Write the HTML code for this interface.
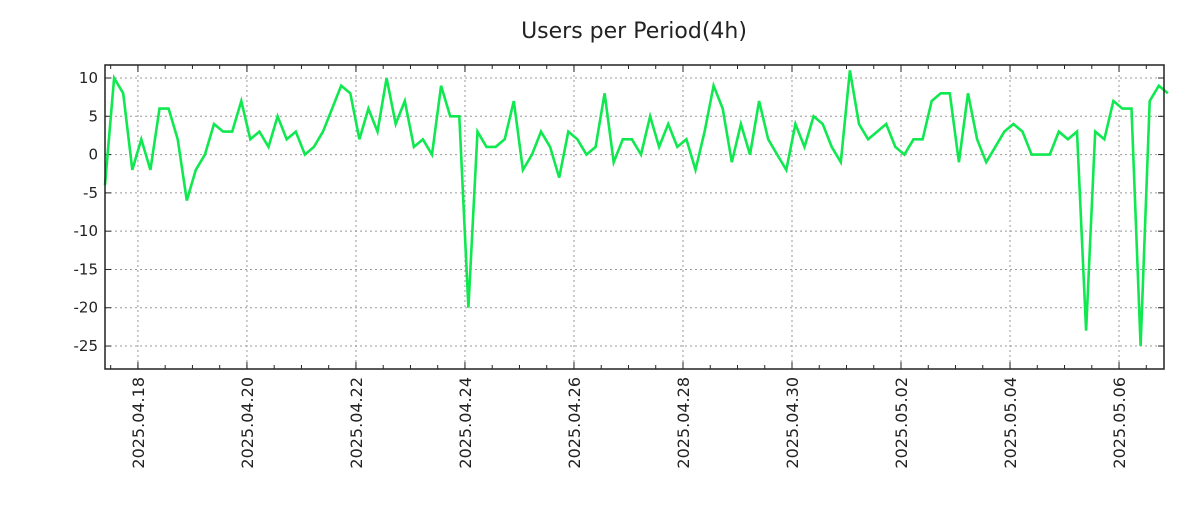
<!DOCTYPE html>
<html><head><meta charset="utf-8"><style>
body{margin:0;background:#fff}
svg text{font-family:"DejaVu Sans","Liberation Sans",sans-serif;fill:#222}
</style></head><body>
<svg id="chart" width="1200" height="500" xmlns="http://www.w3.org/2000/svg">
<rect width="1200" height="500" fill="#fff"/>
<text x="634" y="38" font-size="22" text-anchor="middle">Users per Period(4h)</text>
<g id="grid"></g><g id="axes"></g><g id="series"></g>
<rect x="105" y="65" width="1059" height="304" fill="none" stroke="#222" stroke-width="1.5"/>
</svg>
<script>
const values = [-4,10,8,-2,2,-2,6,6,2,-6,-2,0,4,3,3,7,2,3,1,5,2,3,0,
1,3,6,9,8,2,6,3,10,4,7,1,2,0,9,5,5,-20,
3,1,1,2,7,-2,0,3,1,-3,3,2,0,1,8,-1,2,2,0,5,1,4,1,2,-2,3,9,6,-1,4,0,7,2,0,-2,
4,1,5,4,1,-1,11,4,2,3,4,1,0,2,2,7,8,8,-1,8,2,-1,1,3,4,3,0,0,0,3,2,3,-23,
3,2,7,6,6,-25,7,9,8];
const yTicks = [10,5,0,-5,-10,-15,-20,-25];
const xTickLabels = ["2025.04.18","2025.04.20","2025.04.22","2025.04.24","2025.04.26","2025.04.28","2025.04.30","2025.05.02","2025.05.04","2025.05.06"];
const startHour = -14.5; // hours relative to 2025.04.18 00:00
const stepHours = 4;
const NS="http://www.w3.org/2000/svg";
const L=105,R=1164,T=65,B=369;
const yMin=-28,yMax=11.7;
const xMin=startHour, xMax=startHour+466.3;
const xs=h=>L+(h-xMin)/(xMax-xMin)*(R-L);
const ys=v=>B-(v-yMin)/(yMax-yMin)*(B-T);
function mk(tag,attrs,parent){const e=document.createElementNS(NS,tag);for(const k in attrs)e.setAttribute(k,attrs[k]);parent.appendChild(e);return e;}
const grid=document.getElementById('grid'),axes=document.getElementById('axes'),series=document.getElementById('series');
yTicks.forEach(v=>{
  const y=ys(v);
  const g=mk('line',{x1:L,x2:R,y1:y,y2:y,stroke:'#999','stroke-dasharray':'2,3','stroke-width':1},grid);
  
  
  mk('line',{x1:L,x2:L+6,y1:y,y2:y,stroke:'#222'},axes);
  mk('line',{x1:R-6,x2:R,y1:y,y2:y,stroke:'#222'},axes);
  const t=mk('text',{x:98,y:y+5,'font-size':15,'text-anchor':'end'},axes);
  t.textContent=v;
  
  
});
for(let h=-12;h<=xMax;h+=12){
  const x=xs(h);
  mk('line',{x1:x,x2:x,y1:B,y2:B-4,stroke:'#222'},axes);
  mk('line',{x1:x,x2:x,y1:T,y2:T+4,stroke:'#222'},axes);
}
xTickLabels.forEach((lab,i)=>{
  const x=xs(i*48);
  const g=mk('line',{x1:x,x2:x,y1:T,y2:B,stroke:'#999','stroke-dasharray':'2,3','stroke-width':1},grid);
  
  
  mk('line',{x1:x,x2:x,y1:B,y2:B-7,stroke:'#222'},axes);
  mk('line',{x1:x,x2:x,y1:T,y2:T+7,stroke:'#222'},axes);
  const t=mk('text',{x:0,y:0,'font-size':16,'text-anchor':'end',transform:`translate(${x+6},377) rotate(-90)`},axes);
  t.textContent=lab;
  
  
});
const pts=values.map((v,i)=>xs(startHour+i*stepHours).toFixed(1)+','+ys(v).toFixed(1)).join(' ');
const pl=mk('polyline',{points:pts,fill:'none',stroke:'#10e850','stroke-width':2.6,'stroke-linejoin':'miter'},series);


</script>
</body></html>
